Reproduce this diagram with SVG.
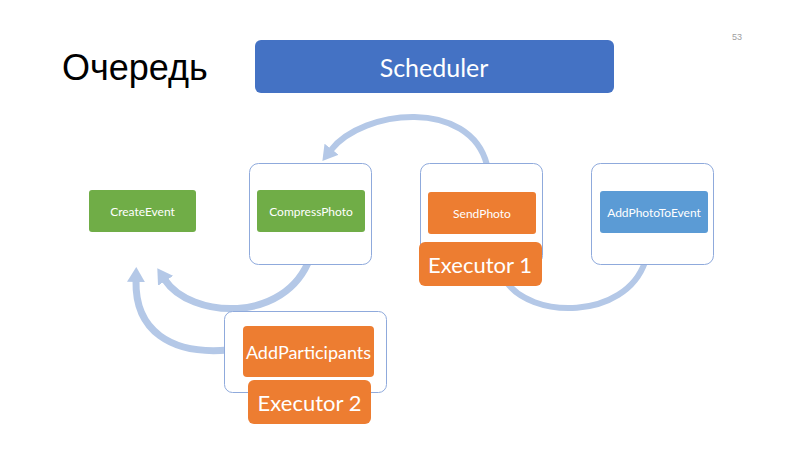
<svg xmlns="http://www.w3.org/2000/svg" width="800" height="450" viewBox="0 0 800 450">
<style>
.cont{fill:#FFFFFF;stroke:#8FAADC;stroke-width:1}
.green{fill:#70AD47}
.orange{fill:#ED7D31}
.blue{fill:#5B9BD5}
.t{font-family:Lato,"Open Sans",sans-serif;fill:#FFFFFF;text-anchor:middle;dominant-baseline:central}
.s{font-size:12px}
.e{font-size:22px}
.arc{fill:none;stroke:#B4C8E7}
</style>
<defs>
<marker id="head" markerUnits="userSpaceOnUse" viewBox="0 -9 15 18" markerWidth="15" markerHeight="18" refX="1" refY="0" orient="auto">
<path d="M0,-9 L15,0 L0,9 Z" fill="#B4C8E7"/>
</marker>
</defs>
<rect width="800" height="450" fill="#FFFFFF"/>
<text x="62" y="80" font-family="'Liberation Sans',Arial,sans-serif" font-size="36" fill="#000000">Очередь</text>
<text x="732" y="40" font-family="'Liberation Sans',Arial,sans-serif" font-size="9" fill="#A0A0A0">53</text>
<g id="connectors">
<path class="arc" stroke-width="6" d="M487 165 C470 98 363 109 331 150" marker-end="url(#head)"/>
<path class="arc" stroke-width="7" d="M310 258 C285 325 190 318 165 280" marker-end="url(#head)"/>
<path class="arc" stroke-width="7" d="M228 350 C170 355 135 330 136 281" marker-end="url(#head)"/>
<path class="arc" stroke-width="6" d="M505 280 C530 320 625 320 645 262"/>
</g>
<g id="scheduler">
<rect x="255" y="40" width="359" height="53" rx="6" fill="#4472C4"/>
<text class="t" x="434" y="67" font-size="25">Scheduler</text>
</g>
<g id="createEvent">
<rect class="green" x="89" y="190" width="107" height="42" rx="3"/>
<text class="t s" x="142.5" y="211">CreateEvent</text>
</g>
<g id="compressPhoto">
<rect class="cont" x="249.5" y="163.5" width="122" height="101" rx="9"/>
<rect class="green" x="257" y="190" width="108" height="42" rx="3"/>
<text class="t s" x="311" y="211">CompressPhoto</text>
</g>
<g id="sendPhoto">
<rect class="cont" x="420.5" y="163.5" width="122" height="101" rx="9"/>
<rect class="orange" x="428" y="192" width="108" height="42" rx="3"/>
<text class="t s" x="482" y="213">SendPhoto</text>
</g>
<g id="executor1">
<rect class="orange" x="419" y="242" width="123" height="44" rx="6"/>
<text class="t e" x="480" y="264">Executor 1</text>
</g>
<g id="addPhotoToEvent">
<rect class="cont" x="591.5" y="163.5" width="122" height="101" rx="9"/>
<rect class="blue" x="600" y="191" width="108" height="42" rx="3"/>
<text class="t s" x="654" y="212">AddPhotoToEvent</text>
</g>
<g id="addParticipants">
<rect class="cont" x="224.5" y="311.5" width="162" height="81" rx="8"/>
<rect class="orange" x="243" y="326" width="131" height="51" rx="4"/>
<text class="t" x="308.5" y="351.5" font-size="18">AddParticipants</text>
</g>
<g id="executor2">
<rect class="orange" x="248" y="380" width="123" height="44" rx="6"/>
<text class="t e" x="309.5" y="402">Executor 2</text>
</g>
</svg>
